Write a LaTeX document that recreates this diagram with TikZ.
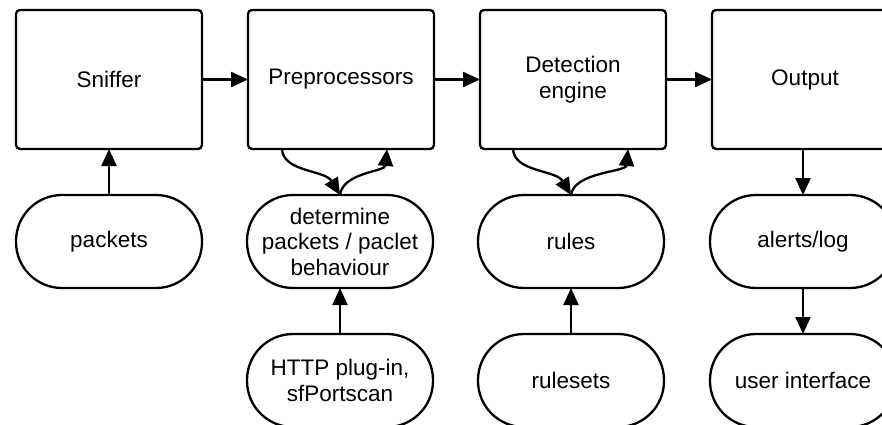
\documentclass[tikz,border=0pt]{standalone}
\usepackage{fontspec}
\setmainfont{Liberation Sans}
\usetikzlibrary{arrows.meta}
\begin{document}
\begin{tikzpicture}[x=1pt,y=-1pt,
  every node/.style={font=\fontsize{22.5}{25.5}\selectfont, align=center, inner sep=0pt, outer sep=0pt},
  stage/.style={draw, line width=2.3pt, rounded corners=4pt, minimum width=186pt, minimum height=139pt},
  pill/.style={draw, line width=2.3pt, rounded corners=46pt, minimum width=186pt, minimum height=93pt},
  conn/.style={line width=2.3pt, -{Triangle[length=17pt,width=15pt]}}]
\useasboundingbox (0,0) rectangle (882,424);
\fill[white] (0,0) rectangle (882,424);
% stages
\node[stage] (sniff) at (109,79.5) {Sniffer};
\node[stage] (prep) at (341,79.5) {Preprocessors};
\node[stage] (det) at (573,79.5) {Detection\\engine};
\node[stage] (out) at (805,79.5) {Output};
% pills row 1
\node[pill] (pk) at (109,241.5) {packets};
\node[pill] (beh) at (340,241.5) {determine\\packets / paclet\\behaviour};
\node[pill] (rules) at (571,241.5) {rules};
\node[pill] (alerts) at (803,241.5) {alerts/log};
% pills row 2
\node[pill] (http) at (340,380.5) {HTTP plug-in,\\sfPortscan};
\node[pill] (rs) at (571,380.5) {rulesets};
\node[pill] (ui) at (803,380.5) {user interface};
% horizontal connectors
\draw[conn] (sniff.east) -- (prep.west);
\draw[conn] (prep.east) -- (det.west);
\draw[conn] (det.east) -- (out.west);
% vertical connectors
\draw[conn] (pk.north) -- (sniff.south);
\draw[conn] (http.north) -- (beh.south);
\draw[conn] (rs.north) -- (rules.south);
\draw[conn] (out.south -| alerts.north) -- (alerts.north);
\draw[conn] (alerts.south) -- (ui.north);
% curved connectors
\coordinate (p1) at (282,149);
\coordinate (p2) at (387,149);
\draw[conn] (p1) .. controls (283,172) and (325,170) .. (beh.north);
\draw[conn] (beh.north) .. controls (343,172) and (385,172) .. (p2);
\coordinate (d1) at (513,149);
\coordinate (d2) at (628,149);
\draw[conn] (d1) .. controls (514,172) and (556,170) .. (rules.north);
\draw[conn] (rules.north) .. controls (574,172) and (626,172) .. (d2);
\end{tikzpicture}
\end{document}
